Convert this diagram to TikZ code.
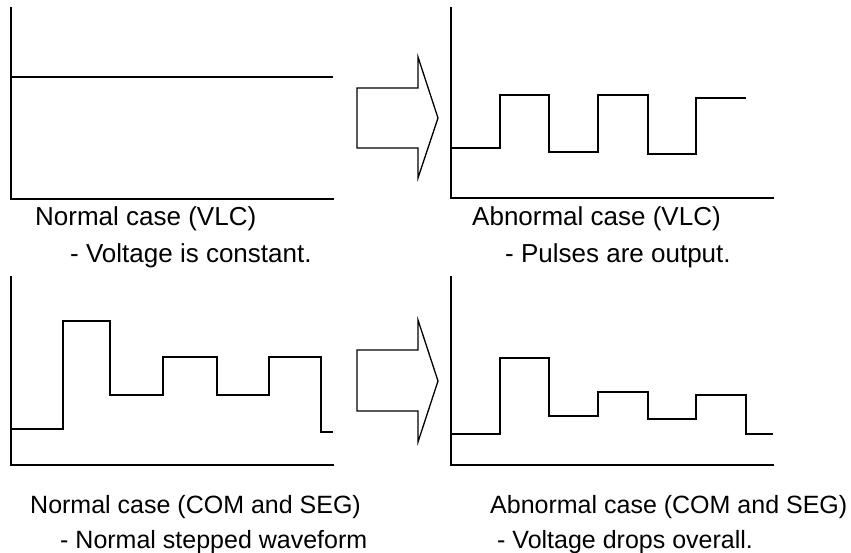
\documentclass[tikz,border=0pt]{standalone}
\usepackage{fontspec}
\setmainfont{Liberation Sans}
\usetikzlibrary{positioning}
\tikzstyle{line} = [line width=1.5pt, line join=miter]

\begin{document}
\begin{tikzpicture}[
    x=1pt, y=-1pt,
    axis/.style={line, line cap=rect},
    wave/.style={line},
    fatarrow/.style={line width=1.3pt, line join=miter, fill=white},
    caption/.style={anchor=base west, inner sep=0pt, font=\fontsize{25}{30}\selectfont},
    bigcaption/.style={caption, font=\fontsize{26}{31}\selectfont}
]
    \useasboundingbox (0,0) rectangle (851,553);

    % top left: normal VLC
    \draw[axis] (11,8) -- (11,199) -- (333,199);
    \draw[wave] (11,77) -- (333,77);
    \node[bigcaption] (vlcnormal) at (35,226) {Normal case (VLC)};
    \node[bigcaption] (vlcnormaltxt) at (70,262) {- Voltage is constant.};

    % top arrow
    \draw[fatarrow] (357,88) -- (418,88) -- (418,57) -- (438,118) -- (418,178) -- (418,148) -- (357,148) -- cycle;

    % top right: abnormal VLC
    \draw[axis] (451,8) -- (451,198) -- (773,198);
    \draw[wave] (451,148) -| (500,95) -| (549,152) -| (598,95) -| (648,154) -| (696,98) -- (746,98);
    \node[bigcaption] (vlcabnormal) at (472,226) {Abnormal case (VLC)};
    \node[bigcaption] (vlcabnormaltxt) at (505,262) {- Pulses are output.};

    % bottom left: normal COM and SEG
    \draw[axis] (11,277) -- (11,465) -- (333,465);
    \draw[wave] (11,429) -| (63,321) -| (110,395) -| (163,357) -| (217,395) -| (269,357) -| (321,432) -- (333,432);
    \node[caption] (segnormal) at (30,513) {Normal case (COM and SEG)};
    \node[caption] (segnormaltxt) at (60,548) {- Normal stepped waveform};

    % bottom arrow
    \draw[fatarrow] (357,350) -- (418,350) -- (418,320) -- (438,381) -- (418,442) -- (418,411) -- (357,411) -- cycle;

    % bottom right: abnormal COM and SEG
    \draw[axis] (451,277) -- (451,465) -- (773,465);
    \draw[wave] (451,434) -| (500,358) -| (549,416) -| (598,392) -| (648,419) -| (696,395) -| (746,434) -- (773,434);
    \node[caption] (segabnormal) at (490,513) {Abnormal case (COM and SEG)};
    \node[caption] (segabnormaltxt) at (497,548) {- Voltage drops overall.};
\end{tikzpicture}
\end{document}
